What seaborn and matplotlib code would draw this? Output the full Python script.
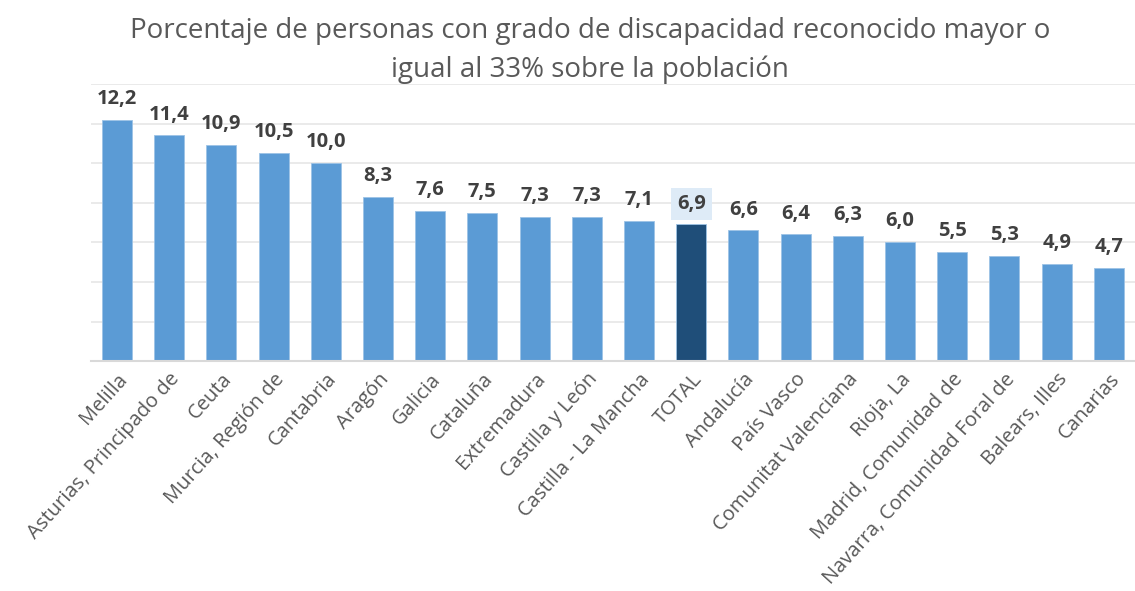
import pandas as pd
import numpy as np
import seaborn as sns
import matplotlib.pyplot as plt

# datos
regiones = ['Melilla', 'Asturias, Principado de', 'Ceuta', 'Murcia, Región de', 'Cantabria',
            'Aragón', 'Galicia', 'Cataluña', 'Extremadura', 'Castilla y León',
            'Castilla - La Mancha', 'TOTAL', 'Andalucía', 'País Vasco', 'Comunitat Valenciana',
            'Rioja, La', 'Madrid, Comunidad de', 'Navarra, Comunidad Foral de', 'Balears, Illes', 'Canarias']
porcentaje = [12.2, 11.4, 10.9, 10.5, 10.0, 8.3, 7.6, 7.5, 7.3, 7.3,
              7.1, 6.9, 6.6, 6.4, 6.3, 6.0, 5.5, 5.3, 4.9, 4.7]
titulo = 'Porcentaje de personas con grado de discapacidad reconocido mayor o\nigual al 33% sobre la población'


def grafico():
    sns.set_style('white')
    plt.rcParams['font.family'] = ['Open Sans', 'DejaVu Sans']

    df = pd.DataFrame({'region': regiones, 'valor': porcentaje})
    colores = ['#1F4E79' if r == 'TOTAL' else '#5B9BD5' for r in regiones]

    fig = plt.figure(figsize=(11.35, 5.91), dpi=100)
    ax = fig.add_axes([0.080, 0.389, 0.92, 0.469])

    sns.barplot(data=df, x='region', y='valor', hue='region', palette=colores,
                legend=False, width=0.575, saturation=1, ax=ax,
                edgecolor='#9DC3E6', linewidth=0.6)

    ax.set_ylim(0, 14)
    ax.set_xlim(-0.5, len(regiones) - 0.5)
    ax.set_yticks(np.arange(0, 15, 2))
    ax.yaxis.grid(True, color='#E6E6E6', linewidth=1.2)
    ax.set_axisbelow(True)
    ax.tick_params(axis='y', length=0, labelleft=False)
    ax.tick_params(axis='x', length=0, pad=6)
    for s in ['top', 'right', 'left']:
        ax.spines[s].set_visible(False)
    ax.spines['bottom'].set_color('#D9D9D9')
    ax.spines['bottom'].set_linewidth(1.5)
    ax.set_xlabel('')
    ax.set_ylabel('')

    ax.set_xticks(range(len(regiones)))
    ax.set_xticklabels(regiones, rotation=48, ha='right', rotation_mode='anchor',
                       fontsize=14.5, color='#595959')

    # etiquetas de valor
    for i, v in enumerate(porcentaje):
        txt = f'{v:.1f}'.replace('.', ',')
        if regiones[i] == 'TOTAL':
            ax.text(i, v + 0.55, txt, ha='center', va='bottom', fontsize=14.5,
                    fontweight='bold', color='#404040',
                    bbox=dict(boxstyle='square,pad=0.3', fc='#DEEBF7', ec='none'))
        else:
            ax.text(i, v + 0.55, txt, ha='center', va='bottom', fontsize=14.5,
                    fontweight='bold', color='#404040')

    fig.text(0.52, 0.972, titulo, ha='center', va='top', fontsize=20,
             color='#595959', linespacing=1.5)

    fig.savefig('out.png', dpi=100)


if __name__ == '__main__':
    grafico()
